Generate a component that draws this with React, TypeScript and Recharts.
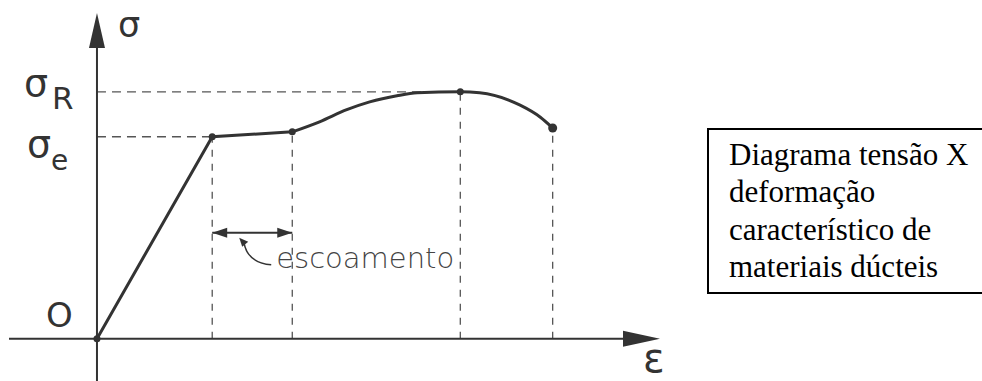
import React from 'react';
import { ComposedChart, Line, Scatter, XAxis, YAxis, ReferenceLine, ReferenceDot } from 'recharts';

// strain (ε) and stress (σ) in arbitrary units
const elasticStrain = [0, 13.1, 22.2];
const elasticStress = [0, 62, 63.5];
const hardeningStrain = [22.2, 25.3, 28.4, 31.0, 34.1, 36.4, 41.3, 43.5, 48.1, 50.4, 51.8];
const hardeningStress = [63.5, 66.6, 70.3, 72.7, 74.6, 75.5, 75.8, 75.5, 71.7, 68.0, 64.7];
const keyStrain = [0, 13.1, 22.2, 41.3, 51.8];
const keyStress = [0, 62, 63.5, 75.8, 64.7];

const sigmaE = 62;
const sigmaR = 75.8;
const yieldStart = 13.1;
const yieldEnd = 22.2;
const ultimateStrain = 41.3;
const ruptureStrain = 51.8;
const yieldBand = 32.5;

const strainDomain = [-10, 64];
const stressDomain = [-13, 100];
const strainArrowBase = 59.8;
const stressArrowBase = 89.3;

const boxLines = ['Diagrama tensão X', 'deformação', 'característico de', 'materiais dúcteis'];

const toPoints = (xs: number[], ys: number[]) => xs.map((strain, i) => ({ strain, stress: ys[i] }));
const elastic = toPoints(elasticStrain, elasticStress);
const hardening = toPoints(hardeningStrain, hardeningStress);
const keyPoints = toPoints(keyStrain, keyStress);

const INK = '#333';
const GUIDE = '#555';
const FONT = '"DejaVu Sans", sans-serif';

const arrowRight = (len: number, half: number) => (p: any) => (
  <polygon points={`${p.cx},${p.cy} ${p.cx - len},${p.cy - half} ${p.cx - len},${p.cy + half}`} fill={INK} />
);
const arrowLeft = (len: number, half: number) => (p: any) => (
  <polygon points={`${p.cx},${p.cy} ${p.cx + len},${p.cy - half} ${p.cx + len},${p.cy + half}`} fill={INK} />
);
const arrowUp = (len: number, half: number) => (p: any) => (
  <polygon points={`${p.cx},${p.cy} ${p.cx - half},${p.cy + len} ${p.cx + half},${p.cy + len}`} fill={INK} />
);

const sigmaLabel = (sub: string, dx: number, dy: number, sdx: number, sdy: number, subSize: number) => (p: any) => (
  <g fill={INK} fontFamily={FONT}>
    <text x={p.cx + dx} y={p.cy + dy} fontSize={38}>σ</text>
    <text x={p.cx + sdx} y={p.cy + sdy} fontSize={subSize}>{sub}</text>
  </g>
);

const plainLabel = (txt: string, dx: number, dy: number, size: number) => (p: any) => (
  <text x={p.cx + dx} y={p.cy + dy} fontSize={size} fill={INK} fontFamily={FONT}>{txt}</text>
);

// curved leader from the yield band arrow to its caption
const yieldCaption = (p: any) => {
  const { cx, cy } = p;
  return (
    <g>
      <path d={`M ${cx + 32} ${cy + 11} Q ${cx + 36} ${cy + 30} ${cx + 59} ${cy + 32}`} fill="none" stroke={INK} strokeWidth={1.5} />
      <polygon points={`${cx + 27},${cy + 5} ${cx + 36},${cy + 9} ${cx + 30},${cy + 14}`} fill={INK} />
      <text x={cx + 64} y={cy + 35} fontSize={29} fill="#444" fontFamily={FONT} fontWeight={300}>escoamento</text>
    </g>
  );
};

const keyDot = (p: any) => (
  <circle cx={p.cx} cy={p.cy} r={p.payload.strain === ruptureStrain ? 4.5 : 3.5} fill={INK} />
);

const guide = { stroke: GUIDE, strokeWidth: 1.3, ifOverflow: 'visible' as const };

export default function App() {
  return (
    <div style={{ position: 'absolute', left: 0, top: 0, width: 982, height: 381, background: '#fff', overflow: 'hidden' }}>
      <ComposedChart width={982} height={381} margin={{ top: 13, right: 322, bottom: 0, left: 9 }}>
        <XAxis type="number" dataKey="strain" domain={strainDomain} allowDataOverflow hide />
        <YAxis type="number" dataKey="stress" domain={stressDomain} allowDataOverflow hide />

        {/* dashed guides */}
        <ReferenceLine segment={[{ x: 0, y: sigmaR }, { x: ultimateStrain, y: sigmaR }]} strokeDasharray="9 6" {...guide} />
        <ReferenceLine segment={[{ x: 0, y: sigmaE }, { x: yieldStart, y: sigmaE }]} strokeDasharray="9 6" {...guide} />
        <ReferenceLine segment={[{ x: yieldStart, y: 0 }, { x: yieldStart, y: sigmaE }]} strokeDasharray="7 7" {...guide} />
        <ReferenceLine segment={[{ x: yieldEnd, y: 0 }, { x: yieldEnd, y: elasticStress[2] }]} strokeDasharray="7 7" {...guide} />
        <ReferenceLine segment={[{ x: ultimateStrain, y: 0 }, { x: ultimateStrain, y: sigmaR }]} strokeDasharray="7 7" {...guide} />
        <ReferenceLine segment={[{ x: ruptureStrain, y: 0 }, { x: ruptureStrain, y: hardeningStress[10] }]} strokeDasharray="7 7" {...guide} />

        {/* axes */}
        <ReferenceLine segment={[{ x: strainDomain[0], y: 0 }, { x: strainArrowBase, y: 0 }]} stroke={INK} strokeWidth={2} ifOverflow="visible" />
        <ReferenceLine segment={[{ x: 0, y: stressDomain[0] }, { x: 0, y: stressArrowBase }]} stroke={INK} strokeWidth={2} ifOverflow="visible" />
        <ReferenceDot x={strainDomain[1]} y={0} r={1} ifOverflow="visible" shape={arrowRight(37, 8)} />
        <ReferenceDot x={0} y={stressDomain[1]} r={1} ifOverflow="visible" shape={arrowUp(35, 8)} />

        {/* yield plateau width */}
        <ReferenceLine segment={[{ x: yieldStart, y: yieldBand }, { x: yieldEnd, y: yieldBand }]} stroke={INK} strokeWidth={2} ifOverflow="visible" />
        <ReferenceDot x={yieldStart} y={yieldBand} r={1} ifOverflow="visible" shape={arrowLeft(15, 5)} />
        <ReferenceDot x={yieldEnd} y={yieldBand} r={1} ifOverflow="visible" shape={arrowRight(15, 5)} />
        <ReferenceDot x={yieldStart} y={yieldBand} r={1} ifOverflow="visible" shape={yieldCaption} />

        <Line data={elastic} dataKey="stress" type="linear" stroke={INK} strokeWidth={3} dot={false} isAnimationActive={false} />
        <Line data={hardening} dataKey="stress" type="monotone" stroke={INK} strokeWidth={3} dot={false} isAnimationActive={false} />
        <Scatter data={keyPoints} dataKey="stress" shape={keyDot} isAnimationActive={false} />

        {/* axis and level labels */}
        <ReferenceDot x={0} y={sigmaR} r={1} ifOverflow="visible" shape={sigmaLabel('R', -73, 4, -45, 17, 31)} />
        <ReferenceDot x={0} y={sigmaE} r={1} ifOverflow="visible" shape={sigmaLabel('e', -70, 20, -46, 33, 28)} />
        <ReferenceDot x={0} y={stressDomain[1]} r={1} ifOverflow="visible" shape={plainLabel('σ', 21, 24, 35)} />
        <ReferenceDot x={0} y={0} r={1} ifOverflow="visible" shape={plainLabel('O', -51, -12, 34)} />
        <ReferenceDot x={strainDomain[1]} y={0} r={1} ifOverflow="visible" shape={plainLabel('ε', -17, 33, 40)} />
      </ComposedChart>

      <div
        style={{
          position: 'absolute', left: 707, top: 128, width: 300, height: 166,
          borderTop: '2px solid #000', borderLeft: '2px solid #000', borderBottom: '2px solid #000',
          fontFamily: '"Liberation Serif", "Times New Roman", serif', fontSize: 31, lineHeight: '37.3px',
          padding: '6px 0 0 20px', boxSizing: 'border-box', color: '#000', whiteSpace: 'nowrap',
        }}
      >
        {boxLines.map((line) => (
          <div key={line}>{line}</div>
        ))}
      </div>
    </div>
  );
}
